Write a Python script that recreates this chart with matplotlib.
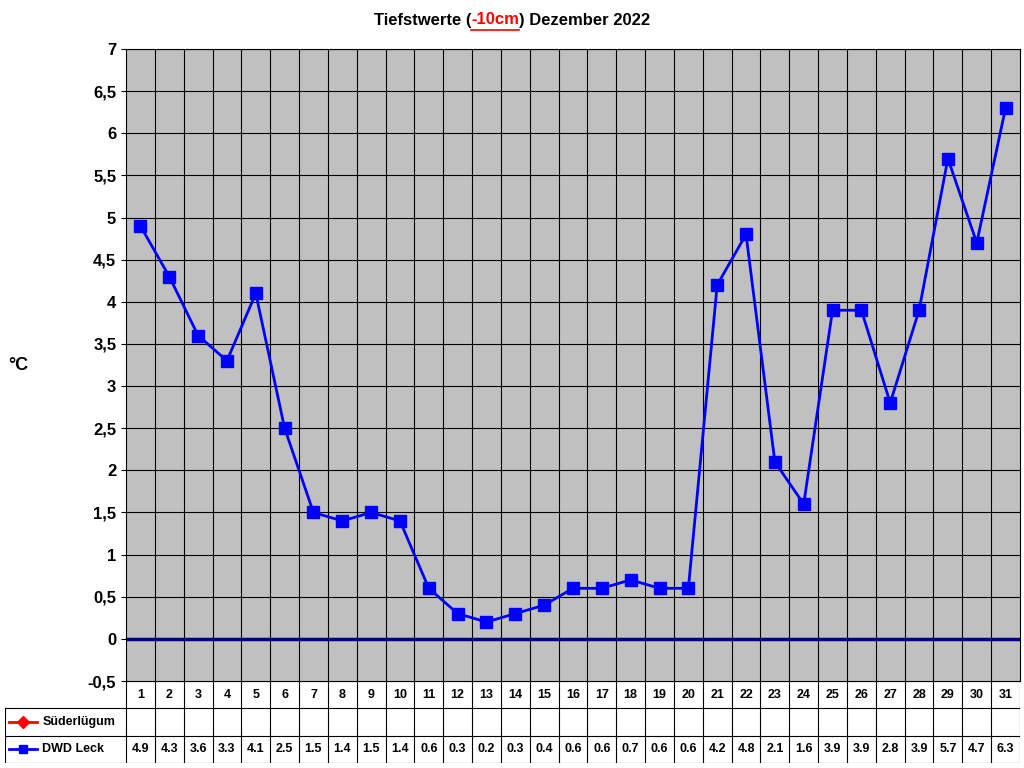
import matplotlib
matplotlib.use("Agg")
import matplotlib.pyplot as plt
import numpy as np
from matplotlib.lines import Line2D

days = list(range(1, 32))
dwd = [4.9,4.3,3.6,3.3,4.1,2.5,1.5,1.4,1.5,1.4,0.6,0.3,0.2,0.3,0.4,0.6,0.6,0.7,0.6,0.6,
       4.2,4.8,2.1,1.6,3.9,3.9,2.8,3.9,5.7,4.7,6.3]
yticks = [-0.5,0,0.5,1,1.5,2,2.5,3,3.5,4,4.5,5,5.5,6,6.5,7]
ylabels = ["-0,5","0","0,5","1","1,5","2","2,5","3","3,5","4","4,5","5","5,5","6","6,5","7"]
series_names = ["Süderlügum", "DWD Leck"]

plt.rcParams['font.family'] = ['Liberation Sans', 'DejaVu Sans']
W, H = 1024, 768
fig = plt.figure(figsize=(10.24, 7.68), dpi=100)
fig.patch.set_facecolor("white")

ax = fig.add_axes([126/W, 1-681/H, 894/W, (681-49)/H])
ax.set_facecolor("#c0c0c0")
ax.set_xlim(0.5, 31.5)
ax.set_ylim(-0.5, 7)
for x in np.arange(1.5, 31.5, 1):
    ax.axvline(x, color="black", lw=0.8, zorder=1)
for y in yticks[1:]:
    ax.axhline(y, color="black", lw=0.8, zorder=1)
ax.axhline(0, color="#000080", lw=2.5, zorder=2)
ax.plot(days, dwd, color="#0000ff", lw=2, marker="s", ms=8, zorder=3)
ax.set_yticks(yticks)
ax.set_yticklabels(ylabels, fontsize=12, fontweight="bold")
ax.set_xticks([])
for s in ax.spines.values():
    s.set_color("black"); s.set_linewidth(0.8)
fig.text(8/W, 1-365/H, "°C", fontsize=13, fontweight="bold", va="center")

# table
tx0 = 5
colw = 894/31
left_cols = (126-tx0)/colw
tb = fig.add_axes([tx0/W, 1-763/H, (1020-tx0)/W, (763-681)/H])
tb.set_xlim(0.5-left_cols, 31.5)
tb.set_ylim(3, 0)
tb.axis("off")
for x in np.arange(0.5, 31.5, 1):
    tb.plot([x, x], [0, 3], color="black", lw=0.8)
tb.plot([31.5, 31.5], [0, 3], color="black", lw=0.8)
tb.plot([0.5-left_cols, 0.5-left_cols], [1, 3], color="black", lw=0.8)
for y in [1, 2, 3]:
    tb.plot([0.5-left_cols, 31.5], [y, y], color="black", lw=0.8)
tb.plot([0.5, 31.5], [0, 0], color="black", lw=0.8)
for d in days:
    tb.text(d, 0.5, str(d), ha="center", va="center", fontsize=9, fontweight="bold")
for d, v in zip(days, dwd):
    tb.text(d, 2.5, f"{v:.1f}", ha="center", va="center", fontsize=9, fontweight="bold")
lx = 0.5-left_cols
tb.plot([lx+0.15, lx+1.1], [1.5, 1.5], color="#ff0000", lw=2)
tb.plot([lx+0.62], [1.5], color="#ff0000", marker="D", ms=6)
tb.plot([lx+0.15, lx+1.1], [2.5, 2.5], color="#0000ff", lw=2)
tb.plot([lx+0.62], [2.5], color="#0000ff", marker="s", ms=6)
tb.text(lx+1.3, 1.5, series_names[0], va="center", fontsize=9, fontweight="bold")
tb.text(lx+1.3, 2.5, series_names[1], va="center", fontsize=9, fontweight="bold")

# title
parts = [("Tiefstwerte (", "black"), ("-10cm", "#ff0000"), (") Dezember 2022", "black")]
fig.canvas.draw()
r = fig.canvas.get_renderer()
texts = []
for s, c in parts:
    t = fig.text(0, 1-20/H, s, color=c, fontsize=12, fontweight="bold", va="center")
    texts.append(t)
widths = [t.get_window_extent(r).width for t in texts]
x = (W/2 + 0) - sum(widths)/2
for t, w in zip(texts, widths):
    t.set_x(x/W)
    if t.get_color() == "#ff0000":
        fig.add_artist(Line2D([x/W, (x+w)/W], [1-30/H, 1-30/H], color="#ff0000", lw=1.2))
    x += w

fig.savefig("out.png", dpi=100)
